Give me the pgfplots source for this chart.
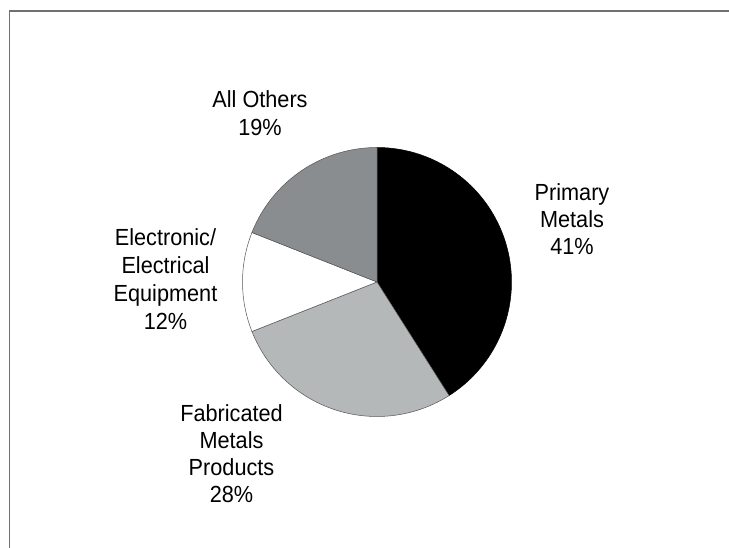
\documentclass[border=0pt]{standalone}
\usepackage{pgfplots}
\usepackage{pgfplotstable}
\pgfplotsset{compat=1.18}
\usepackage{fontspec}
\setmainfont{Liberation Sans}[FakeStretch=0.93]
\definecolor{cPrimary}{HTML}{000000}
\definecolor{cFab}{HTML}{B5B8B9}
\definecolor{cElec}{HTML}{FFFFFF}
\definecolor{cOther}{HTML}{8A8D8F}
\definecolor{frame}{HTML}{707070}
\definecolor{edge}{HTML}{555555}

\pgfplotstableread{
idx pct
0 41
1 28
2 12
3 19
}\piedata

\begin{document}%
\begin{tikzpicture}
\pgfplotstablegetelem{0}{pct}\of\piedata \pgfmathsetmacro{\aA}{90-3.6*\pgfplotsretval}
\pgfplotstablegetelem{1}{pct}\of\piedata \pgfmathsetmacro{\aB}{\aA-3.6*\pgfplotsretval}
\pgfplotstablegetelem{2}{pct}\of\piedata \pgfmathsetmacro{\aC}{\aB-3.6*\pgfplotsretval}
\pgfplotstablegetelem{3}{pct}\of\piedata \pgfmathsetmacro{\aD}{\aC-3.6*\pgfplotsretval}
\begin{axis}[name=ax, hide axis, scale only axis, width=729bp, height=548bp,
  xmin=0, xmax=729, ymin=0, ymax=548, clip=false]
\addplot[fill=cPrimary, draw=black, line width=0.5bp, domain=\aA:90, samples=90, variable=\t]
  ({377+134.5*cos(\t)},{266+134.5*sin(\t)}) -- (axis cs:377,266) -- cycle;
\addplot[fill=cFab, draw=edge, line width=0.5bp, domain=\aB:\aA, samples=70, variable=\t]
  ({377+134.5*cos(\t)},{266+134.5*sin(\t)}) -- (axis cs:377,266) -- cycle;
\addplot[fill=cElec, draw=edge, line width=0.5bp, domain=\aC:\aB, samples=40, variable=\t]
  ({377+134.5*cos(\t)},{266+134.5*sin(\t)}) -- (axis cs:377,266) -- cycle;
\addplot[fill=cOther, draw=edge, line width=0.5bp, domain=\aD:\aC, samples=50, variable=\t]
  ({377+134.5*cos(\t)},{266+134.5*sin(\t)}) -- (axis cs:377,266) -- cycle;
\draw[frame, line width=1.4bp] (axis cs:9.5,0) -- (axis cs:9.5,537) -- (axis cs:729,537);
\coordinate (bl) at (axis cs:0,0);
\coordinate (tr) at (axis cs:729,548);
\tikzset{lbl/.style={anchor=base, inner sep=0pt, text=black, font=\fontsize{23.4}{28}\selectfont}}
\node[lbl] at (axis cs:260,440.5) {All Others};
\node[lbl] at (axis cs:260,412.5) {19\%};
\node[lbl] at (axis cs:572,347) {Primary};
\node[lbl] at (axis cs:572,320) {Metals};
\node[lbl] at (axis cs:572,293) {41\%};
\node[lbl] at (axis cs:165.5,302) {Electronic/};
\node[lbl] at (axis cs:165.5,274) {Electrical};
\node[lbl] at (axis cs:165.5,246) {Equipment};
\node[lbl] at (axis cs:165.5,218) {12\%};
\node[lbl] at (axis cs:231.5,126.5) {Fabricated};
\node[lbl] at (axis cs:231.5,99.5) {Metals};
\node[lbl] at (axis cs:231.5,72) {Products};
\node[lbl] at (axis cs:231.5,45) {28\%};
\end{axis}
\pgfresetboundingbox
\useasboundingbox (bl) rectangle (tr);
\end{tikzpicture}%
\end{document}
